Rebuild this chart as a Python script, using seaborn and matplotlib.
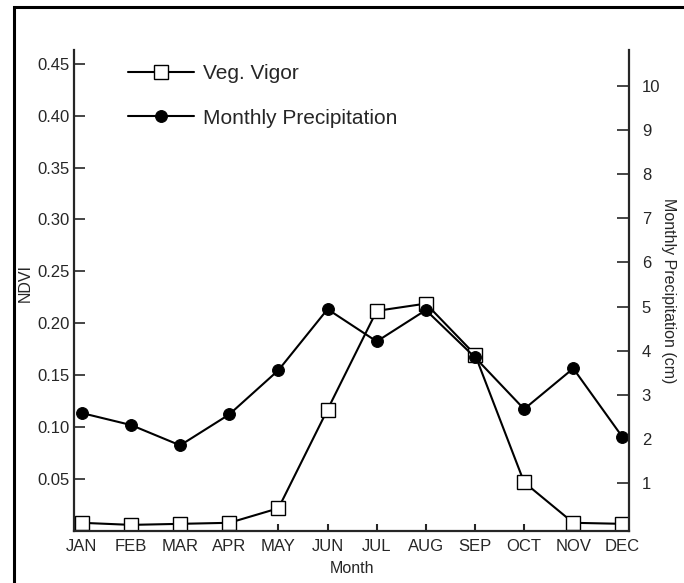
import matplotlib
matplotlib.use("Agg")
import matplotlib.pyplot as plt
from matplotlib.patches import Rectangle
import seaborn as sns
import pandas as pd

months = ['JAN', 'FEB', 'MAR', 'APR', 'MAY', 'JUN',
          'JUL', 'AUG', 'SEP', 'OCT', 'NOV', 'DEC']
ndvi = [0.008, 0.006, 0.007, 0.008, 0.022, 0.117,
        0.212, 0.219, 0.170, 0.047, 0.008, 0.007]
precip = [2.59, 2.32, 1.86, 2.56, 3.56, 4.94,
          4.21, 4.92, 3.85, 2.68, 3.60, 2.05]
ndvi_ticks = [0.05, 0.10, 0.15, 0.20, 0.25, 0.30, 0.35, 0.40, 0.45]
precip_ticks = [1, 2, 3, 4, 5, 6, 7, 8, 9, 10]

df = pd.DataFrame({'Month': months, 'NDVI': ndvi, 'Precip': precip})

sns.set_style("ticks")
plt.rcParams['font.family'] = ['Liberation Sans', 'DejaVu Sans']

fig = plt.figure(figsize=(6.84, 5.83), dpi=100)
ax = fig.add_axes([0.108, 0.089, 0.812, 0.825])
ax2 = ax.twinx()

sns.lineplot(data=df, x='Month', y='NDVI', ax=ax, color='black', lw=1.5,
             marker='s', markersize=10.5, markerfacecolor='white',
             markeredgecolor='black', markeredgewidth=1.0,
             label='Veg. Vigor', legend=False, sort=False)
sns.lineplot(data=df, x='Month', y='Precip', ax=ax2, color='black', lw=1.5,
             marker='o', markersize=8.5, markerfacecolor='black',
             markeredgecolor='black', label='Monthly Precipitation',
             legend=False, sort=False, clip_on=False)

ax.set_xlim(-0.163, 11.14)
ax.set_ylim(0, 0.463)
ax2.set_ylim(-0.08, 10.8)

ax.set_xticks(range(len(months)))
ax.set_xticklabels(months)
ax.set_yticks(ndvi_ticks)
ax.set_yticklabels([f'{t:.2f}' for t in ndvi_ticks])
ax2.set_yticks(precip_ticks)

ax.tick_params(axis='x', direction='in', length=5, width=1.5, pad=6, labelsize=12)
ax.tick_params(axis='y', direction='in', length=8, width=1.2, pad=3, labelsize=12)
ax2.tick_params(axis='y', direction='in', length=9, width=1.2, pad=9, labelsize=12)

for a in (ax, ax2):
    a.spines['top'].set_visible(False)
    for s in ('left', 'right', 'bottom'):
        a.spines[s].set_linewidth(1.6)
ax.spines['right'].set_visible(False)
ax2.spines['left'].set_visible(False)
ax2.spines['bottom'].set_visible(False)

ax.set_xlabel('Month', fontsize=11.5)
ax.set_ylabel('NDVI', fontsize=11.5)
ax2.set_ylabel('Monthly Precipitation (cm)', fontsize=11.5, rotation=-90)
ax.xaxis.set_label_coords(0.5, -0.062)
ax.yaxis.set_label_coords(-0.074, 0.515)
ax2.yaxis.set_label_coords(1.085, 0.5)

h1, l1 = ax.get_legend_handles_labels()
h2, l2 = ax2.get_legend_handles_labels()
ax2.legend(h1 + h2, l1 + l2, loc='upper left', bbox_to_anchor=(0.097, 0.971),
           frameon=False, fontsize=15, handlelength=3.2, handletextpad=0.39,
           labelspacing=1.23, borderpad=0, borderaxespad=0)

fig.patches.append(Rectangle((14 / 684, -0.01), 1.0, 0.998,
                             transform=fig.transFigure, fill=False,
                             edgecolor='black', linewidth=2.2))

fig.savefig('out.png', dpi=100)
